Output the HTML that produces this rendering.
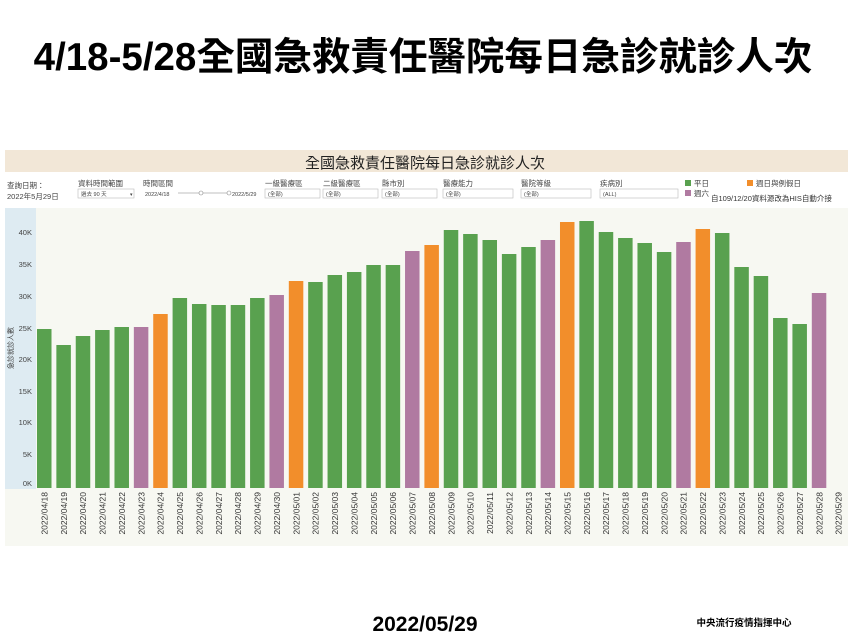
<!DOCTYPE html>
<html><head><meta charset="utf-8"><style>
body{margin:0;width:850px;height:638px;background:#fff;overflow:hidden;font-family:"Liberation Sans","Noto Sans CJK TC",sans-serif}
</style></head><body>
<svg width="850" height="638" xmlns="http://www.w3.org/2000/svg" font-family="Liberation Sans, Noto Sans CJK TC, sans-serif">
<text x="423" y="70" text-anchor="middle" font-size="38.5" font-weight="bold" fill="#000">4/18-5/28全國急救責任醫院每日急診就診人次</text>
<rect x="5" y="150" width="843" height="396" fill="#f7f8f2"/>
<rect x="5" y="150" width="843" height="22" fill="#f2e7d7"/>
<rect x="5" y="172" width="843" height="36" fill="#fff"/>
<text x="425" y="168" text-anchor="middle" font-size="15" fill="#222">全國急救責任醫院每日急診就診人次</text>
<g font-size="7.5" fill="#444">
<text x="7" y="188">查詢日期：</text><text x="7" y="199">2022年5月29日</text>
<text x="78" y="186">資料時間範圍</text><rect x="78" y="189" width="56" height="9" fill="#fff" stroke="#bbb" stroke-width=".6"/><text x="81" y="196" font-size="5.5">過去 90 天</text><text x="130" y="196" font-size="5">▾</text>
<text x="143" y="186">時間區間</text><text x="145" y="196" font-size="5.5">2022/4/18</text><line x1="178" y1="193" x2="230" y2="193" stroke="#aaa" stroke-width=".7"/><circle cx="201" cy="193" r="2" fill="#fff" stroke="#888" stroke-width=".6"/><circle cx="229" cy="193" r="2" fill="#fff" stroke="#888" stroke-width=".6"/><text x="232" y="196" font-size="5.5">2022/5/29</text>
<text x="265" y="186">一級醫療區</text><rect x="265" y="189" width="55" height="9" fill="#fff" stroke="#bbb" stroke-width=".6"/><text x="268" y="196" font-size="5.5">(全部)</text>
<text x="323" y="186">二級醫療區</text><rect x="323" y="189" width="55" height="9" fill="#fff" stroke="#bbb" stroke-width=".6"/><text x="326" y="196" font-size="5.5">(全部)</text>
<text x="382" y="186">縣市別</text><rect x="382" y="189" width="55" height="9" fill="#fff" stroke="#bbb" stroke-width=".6"/><text x="385" y="196" font-size="5.5">(全部)</text>
<text x="443" y="186">醫療能力</text><rect x="443" y="189" width="70" height="9" fill="#fff" stroke="#bbb" stroke-width=".6"/><text x="446" y="196" font-size="5.5">(全部)</text>
<text x="521" y="186">醫院等級</text><rect x="521" y="189" width="70" height="9" fill="#fff" stroke="#bbb" stroke-width=".6"/><text x="524" y="196" font-size="5.5">(全部)</text>
<text x="600" y="186">疾病別</text><rect x="600" y="189" width="78" height="9" fill="#fff" stroke="#bbb" stroke-width=".6"/><text x="603" y="196" font-size="5.5">(ALL)</text>
<rect x="685" y="180" width="6" height="6" fill="#59a14f"/><text x="694" y="186">平日</text>
<rect x="747" y="180" width="6" height="6" fill="#f28e2b"/><text x="756" y="186">週日與例假日</text>
<rect x="685" y="190" width="6" height="6" fill="#b07aa1"/><text x="694" y="196">週六</text>
<text x="711" y="201" fill="#333">自109/12/20資料源改為HIS自動介接</text>
</g>
<rect x="5" y="208" width="31" height="281" fill="#deebf2"/>
<g font-size="7.5" fill="#444" text-anchor="end">
<text x="32" y="235">40K</text><text x="32" y="267">35K</text><text x="32" y="299">30K</text><text x="32" y="331">25K</text><text x="32" y="362">20K</text><text x="32" y="394">15K</text><text x="32" y="425">10K</text><text x="32" y="457">5K</text><text x="32" y="486">0K</text>
</g>
<text transform="translate(13,348) rotate(-90)" text-anchor="middle" font-size="7" fill="#444">急診就診人數</text>
<g id="bars"></g>
<g id="labels" font-size="8.5" fill="#333"></g>
<text x="425" y="631" text-anchor="middle" font-size="21" font-weight="bold" fill="#000">2022/05/29</text>
<text x="744" y="626" text-anchor="middle" font-size="9.5" font-weight="bold" fill="#000">中央流行疫情指揮中心</text>
</svg>
<script>
var tops=[329,345,336,330,327,327,314,298,304,305,305,298,295,281,282,275,272,265,265,251,245,230,234,240,254,247,240,222,221,232,238,243,252,242,229,233,267,276,318,324,293];
var c=[];for(var i=0;i<41;i++){var d=(i+1)%7;c.push(d==6?'#b07aa1':(d==0?'#f28e2b':'#59a14f'));}
c[13]='#f28e2b';c[12]='#b07aa1';
var ns='http://www.w3.org/2000/svg',b=document.getElementById('bars'),l=document.getElementById('labels');
for(var i=0;i<42;i++){var x=37+i*19.37;
if(i<41){var r=document.createElementNS(ns,'rect');r.setAttribute('x',x);r.setAttribute('y',tops[i]);r.setAttribute('width',14.5);r.setAttribute('height',488-tops[i]);r.setAttribute('fill',c[i]);b.appendChild(r);}
var dt=new Date(2022,3,18+i);var s='2022/'+String(dt.getMonth()+1).padStart(2,'0')+'/'+String(dt.getDate()).padStart(2,'0');
var t=document.createElementNS(ns,'text');t.setAttribute('transform','translate('+(x+10.5)+',492) rotate(-90)');t.setAttribute('text-anchor','end');t.textContent=s;l.appendChild(t);}
</script>
</body></html>
